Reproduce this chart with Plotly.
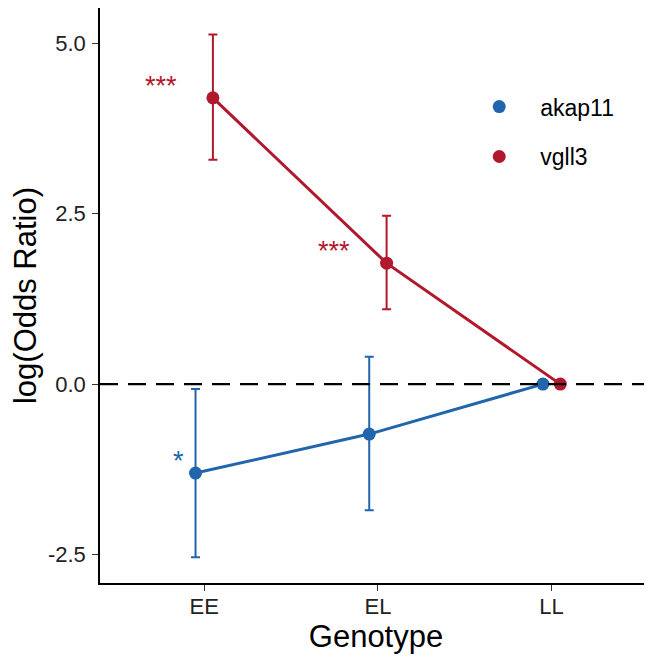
import plotly.graph_objects as go

genotypes = ["EE", "EL", "LL"]
akap11_est = [-1.305, -0.733, 0.0]
akap11_lo = [-2.54, -1.85, 0.0]
akap11_hi = [-0.07, 0.40, 0.0]
vgll3_est = [4.20, 1.774, 0.0]
vgll3_lo = [3.29, 1.10, 0.0]
vgll3_hi = [5.13, 2.47, 0.0]
akap11_sig = ["*", "", ""]
vgll3_sig = ["***", "***", ""]

BLUE = "#2166AC"
RED = "#B2182B"
FONT = "Liberation Sans, Arial, sans-serif"
dodge = 0.05

base = list(range(1, len(genotypes) + 1))

series = [
    ("akap11", akap11_est, akap11_lo, akap11_hi, akap11_sig, BLUE, -dodge, -0.15),
    ("vgll3", vgll3_est, vgll3_lo, vgll3_hi, vgll3_sig, RED, dodge, -0.25),
]

fig = go.Figure()
annotations = []
for name, est, lo, hi, sig, col, off, lab_dx in series:
    xs = [b + off for b in base]
    fig.add_trace(go.Scatter(
        x=xs, y=est, mode="lines", line=dict(color=col, width=3),
        showlegend=False, hoverinfo="skip", legendgroup=name))
    fig.add_trace(go.Scatter(
        x=xs, y=est, mode="markers", name=name, legendgroup=name,
        marker=dict(color=col, size=13),
        error_y=dict(type="data", symmetric=False,
                     array=[h - e for h, e in zip(hi, est)],
                     arrayminus=[e - l for e, l in zip(est, lo)],
                     color=col, thickness=2, width=4.5, visible=True)))
    for b, e, s in zip(base, est, sig):
        if s:
            annotations.append(dict(
                x=b + lab_dx, y=e + 0.18, xref="x", yref="y", text=s,
                showarrow=False, font=dict(family=FONT, size=27, color=col),
                xanchor="center", yanchor="middle"))

fig.add_shape(type="line", xref="paper", yref="y", x0=0, x1=1, y0=0, y1=0,
              line=dict(color="black", width=2.2, dash="18px,10px"), layer="above")

fig.update_layout(
    width=652, height=657,
    margin=dict(l=92, r=8, t=0, b=82),
    paper_bgcolor="white", plot_bgcolor="white",
    font=dict(family=FONT, size=22, color="black"),
    annotations=annotations,
    legend=dict(x=0.649, y=0.785, xanchor="left", yanchor="middle",
                font=dict(family=FONT, size=23, color="black"),
                bgcolor="rgba(0,0,0,0)", itemwidth=72, tracegroupgap=17),
    xaxis=dict(range=[0.4, 3.578], tickvals=base, ticktext=genotypes,
               showgrid=False, zeroline=False, showline=True,
               linecolor="black", linewidth=1.6, ticks="outside",
               ticklen=6, tickwidth=1.4, tickcolor="#333333",
               ticklabelstandoff=-3,
               tickfont=dict(size=22, color="#222222"),
               title=dict(text="Genotype", font=dict(size=31), standoff=2)),
    yaxis=dict(range=[-2.918, 5.518], tickvals=[-2.5, 0, 2.5, 5.0],
               ticktext=["-2.5", "0.0", "2.5", "5.0"],
               showgrid=False, zeroline=False, showline=True,
               linecolor="black", linewidth=1.6, ticks="outside",
               ticklen=6, tickwidth=1.4, tickcolor="#333333",
               ticklabelstandoff=2,
               tickfont=dict(size=22, color="#222222"),
               title=dict(text="log(Odds Ratio)", font=dict(size=31), standoff=12)),
)

fig.write_html("out.html")
